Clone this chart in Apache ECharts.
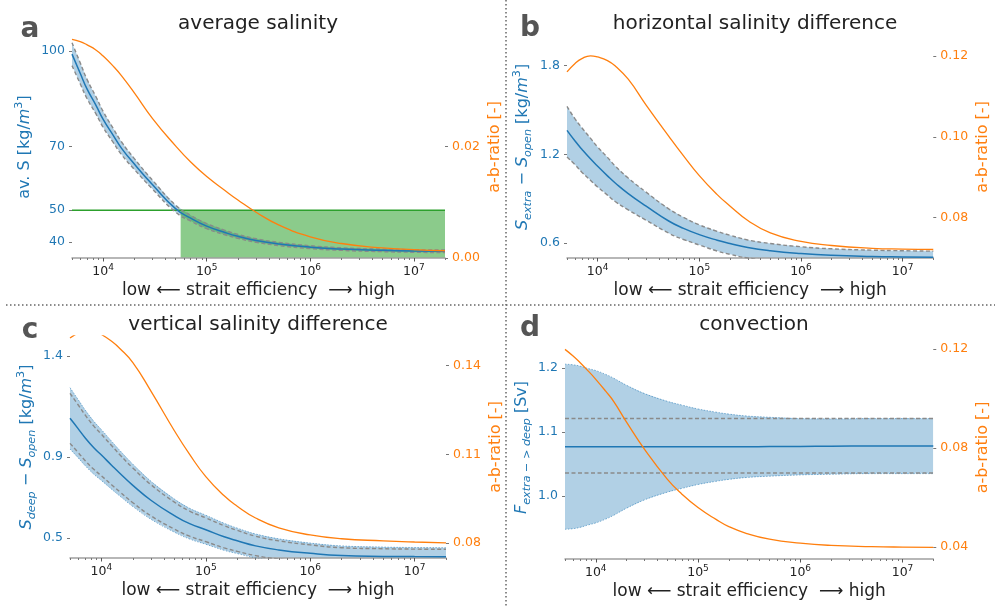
<!DOCTYPE html>
<html>
<head>
<meta charset="utf-8">
<title>strait efficiency</title>
<script src="https://cdn.jsdelivr.net/npm/echarts@6/dist/echarts.min.js"></script>
<style>
  html, body { margin: 0; padding: 0; background: #fff; }
  #chart { width: 995px; height: 607px; }
</style>
</head>
<body>
<div id="chart"></div>
<script>
// strait efficiency samples shared by all four panels
const efficiency = [5000, 6000, 7000, 8500, 10000, 12500, 15000, 20000, 30000, 50000, 70000,
  100000, 150000, 200000, 300000, 500000, 1000000, 2000000, 5000000, 10000000, 20000000];

// a: average salinity
const avgSMean = [99, 93, 88, 83, 78.5, 73.5, 69.5, 64.5, 58, 50.5, 47.5, 45, 43, 41.8, 40.5, 39.4, 38.4, 37.8, 37.4, 37.2, 37.1];
const avgSHigh = [102.6, 96.3, 91.0, 85.7, 81.0, 75.7, 71.5, 66.2, 59.4, 51.6, 48.4, 45.8, 43.7, 42.4, 41.05, 39.9, 38.85, 38.2, 37.8, 37.6, 37.5];
const avgSLow = [95.4, 89.7, 85.0, 80.3, 76.0, 71.3, 67.5, 62.8, 56.6, 49.4, 46.6, 44.2, 42.3, 41.2, 39.95, 38.9, 37.95, 37.4, 37.0, 36.8, 36.7];
const avgRatio = [0.0392, 0.0388, 0.0382, 0.0373, 0.0362, 0.0344, 0.0327, 0.0296, 0.0250, 0.0201, 0.0172, 0.0146, 0.0121, 0.0104, 0.0082, 0.0059, 0.0038, 0.0026, 0.0018, 0.0015, 0.0013];
const salinityLimit = 50;
const limitFrom = 56000;

// b: horizontal salinity difference
const horizMean = [1.362, 1.29, 1.235, 1.17, 1.12, 1.055, 1.005, 0.935, 0.85, 0.75, 0.70, 0.658, 0.620, 0.598, 0.571, 0.549, 0.530, 0.518, 0.510, 0.507, 0.505];
const horizHigh = [1.524, 1.44, 1.38, 1.31, 1.25, 1.18, 1.12, 1.04, 0.945, 0.832, 0.775, 0.724, 0.680, 0.654, 0.622, 0.598, 0.576, 0.562, 0.553, 0.549, 0.546];
const horizLow = [1.182, 1.13, 1.08, 1.025, 0.98, 0.925, 0.88, 0.825, 0.755, 0.668, 0.625, 0.588, 0.547, 0.525, 0.500, 0.483, 0.468, 0.460, 0.455, 0.453, 0.452];
const horizRatio = [0.1161, 0.1182, 0.1194, 0.1201, 0.1198, 0.1189, 0.1175, 0.1143, 0.1079, 0.1002, 0.0953, 0.0904, 0.0857, 0.0829, 0.0793, 0.0762, 0.0741, 0.0731, 0.0724, 0.0722, 0.0721];

// c: vertical salinity difference
const vertMean = [1.092, 1.04, 0.995, 0.945, 0.91, 0.86, 0.82, 0.76, 0.685, 0.61, 0.57, 0.54, 0.505, 0.485, 0.46, 0.44, 0.423, 0.412, 0.408, 0.407, 0.406];
const vertFillHigh = [1.244, 1.184, 1.133, 1.076, 1.036, 0.979, 0.933, 0.865, 0.779, 0.692, 0.646, 0.612, 0.572, 0.548, 0.519, 0.495, 0.474, 0.460, 0.454, 0.452, 0.451];
const vertFillLow = [0.940, 0.896, 0.857, 0.814, 0.784, 0.741, 0.707, 0.655, 0.591, 0.528, 0.494, 0.468, 0.438, 0.422, 0.401, 0.385, 0.372, 0.364, 0.362, 0.362, 0.361];
const vertDashHigh = [1.216, 1.158, 1.108, 1.052, 1.013, 0.957, 0.912, 0.846, 0.762, 0.677, 0.632, 0.599, 0.560, 0.537, 0.508, 0.485, 0.465, 0.451, 0.446, 0.444, 0.443];
const vertDashLow = [0.968, 0.922, 0.882, 0.838, 0.807, 0.763, 0.728, 0.674, 0.608, 0.543, 0.508, 0.481, 0.450, 0.433, 0.412, 0.395, 0.381, 0.373, 0.370, 0.370, 0.369];
const vertRatio = [0.1493, 0.1510, 0.1518, 0.1516, 0.1505, 0.1482, 0.1458, 0.1410, 0.1312, 0.1180, 0.1100, 0.1025, 0.0960, 0.0925, 0.0885, 0.0852, 0.0828, 0.0815, 0.0808, 0.0804, 0.0801];

// d: convection
const convMean = [1.077, 1.077, 1.077, 1.077, 1.077, 1.077, 1.077, 1.077, 1.077, 1.077, 1.077, 1.077, 1.077, 1.077, 1.077, 1.0772, 1.0775, 1.0778, 1.078, 1.078, 1.078];
const convFillHigh = [1.206, 1.205, 1.203, 1.199, 1.196, 1.190, 1.184, 1.173, 1.160, 1.148, 1.142, 1.136, 1.131, 1.128, 1.125, 1.123, 1.121, 1.1205, 1.121, 1.121, 1.121];
const convFillLow = [0.948, 0.949, 0.951, 0.955, 0.958, 0.964, 0.970, 0.981, 0.994, 1.006, 1.012, 1.018, 1.023, 1.026, 1.029, 1.031, 1.033, 1.034, 1.035, 1.035, 1.035];
const convDashX = [5000, 20000000];
const convDashHigh = [1.121, 1.121];
const convDashLow = [1.036, 1.036];
const convRatio = [0.1199, 0.1172, 0.1146, 0.1110, 0.1078, 0.1030, 0.0988, 0.0905, 0.0795, 0.0675, 0.0613, 0.0560, 0.0512, 0.0483, 0.0455, 0.0432, 0.0416, 0.0407, 0.0402, 0.0400, 0.0399];

// tick positions
const xMajorTicks = [1e4, 1e5, 1e6, 1e7];
const xMinorTicks = [5000, 6000, 7000, 8000, 9000,
  20000, 30000, 40000, 50000, 60000, 70000, 80000, 90000,
  200000, 300000, 400000, 500000, 600000, 700000, 800000, 900000,
  2e6, 3e6, 4e6, 5e6, 6e6, 7e6, 8e6, 9e6, 2e7];
const avgSTicks = [40, 50, 70, 100];
const avgRatioTicks = [0, 0.02, 0.04];
const horizTicks = [0.6, 1.2, 1.8];
const horizRatioTicks = [0.08, 0.10, 0.12];
const vertTicks = [0.5, 0.9, 1.4];
const vertRatioTicks = [0.08, 0.11, 0.14];
const convTicks = [1.0, 1.1, 1.2];
const convRatioTicks = [0.04, 0.08, 0.12];

const FONT = "'DejaVu Sans', sans-serif";
const BLUE = '#1f77b4';
const ORANGE = '#ff7f0e';
const BAND = 'rgba(31,119,180,0.35)';
const DASH_GRAY = '#8a8a8a';

const pairs = (xs, ys) => xs.map((x, i) => [x, ys[i]]);

function richFor(color, size) {
  return {
    it: { color, fontFamily: FONT, fontSize: size, fontStyle: 'italic', lineHeight: 22 },
    sub: { color, fontFamily: FONT, fontSize: size * 0.7, fontStyle: 'italic', verticalAlign: 'bottom', lineHeight: 9 },
    sup: { color, fontFamily: FONT, fontSize: size * 0.7, verticalAlign: 'top', lineHeight: 9 }
  };
}

function xAxes(gi) {
  return [{
    type: 'log', logBase: 10, gridIndex: gi, min: 5000, max: 2e7, position: 'bottom', z: 3,
    name: 'low ⟵ strait efficiency  ⟶ high', nameLocation: 'middle', nameGap: 22,
    nameTextStyle: { fontSize: 17, color: '#222', fontFamily: FONT },
    axisLine: { lineStyle: { color: '#a0a0a0', width: 1.5 } },
    axisTick: { customValues: xMajorTicks, length: 3.5, lineStyle: { color: '#555' } },
    axisLabel: {
      customValues: xMajorTicks, color: '#222', fontSize: 12.5, fontFamily: FONT, margin: 5, lineHeight: 18,
      formatter: v => '10{sup|' + Math.round(Math.log10(v)) + '}',
      rich: { sup: { color: '#222', fontSize: 9, fontFamily: FONT, verticalAlign: 'top', lineHeight: 9 } }
    },
    splitLine: { show: false }
  }, {
    type: 'log', logBase: 10, gridIndex: gi, min: 5000, max: 2e7, position: 'bottom', z: 3,
    axisLine: { show: false }, axisLabel: { show: false }, splitLine: { show: false },
    axisTick: { customValues: xMinorTicks, length: 2, lineStyle: { color: '#777' } }
  }];
}

function yAxis(gi, side, min, max, ticks, digits, color, name, nameGap) {
  return {
    type: 'value', gridIndex: gi, position: side, min, max,
    name, nameLocation: 'middle', nameGap, nameRotate: 90,
    nameTextStyle: { color, fontSize: 16, fontFamily: FONT, lineHeight: 22, rich: richFor(color, 16) },
    axisLine: { show: false },
    axisTick: { show: true, customValues: ticks, length: 3, lineStyle: { color: '#777' } },
    axisLabel: { customValues: ticks, formatter: v => v.toFixed(digits), color, fontSize: 12.5, fontFamily: FONT, margin: 7 },
    splitLine: { show: false }
  };
}

function line(xi, yi, data, color, width, type, extra) {
  return Object.assign({
    type: 'line', xAxisIndex: xi, yAxisIndex: yi, data, smooth: 0.5,
    symbol: 'none', silent: true, lineStyle: { color, width, type }
  }, extra || {});
}

// shaded band between lo and hi, drawn as one polygon through the axes' coord()
function bandFill(xi, yi, lo, hi) {
  return {
    type: 'custom', xAxisIndex: xi, yAxisIndex: yi, silent: true, clip: true,
    data: efficiency.map((x, i) => [x, lo[i], hi[i]]),
    encode: { x: 0, y: [1, 2] },
    renderItem: (params, api) => {
      if (params.dataIndex !== 0) return null;
      const top = efficiency.map((x, i) => api.coord([x, hi[i]]));
      const bottom = efficiency.map((x, i) => api.coord([x, lo[i]])).reverse();
      const cs = params.coordSys;
      return {
        type: 'polygon',
        shape: { points: top.concat(bottom) },
        style: { fill: BAND },
        clipPath: { type: 'rect', shape: { x: cs.x, y: cs.y, width: cs.width, height: cs.height } }
      };
    }
  };
}

function bandEdges(xi, yi, lo, hi, edge) {
  return [
    line(xi, yi, pairs(efficiency, lo), edge.color, edge.width, edge.type),
    line(xi, yi, pairs(efficiency, hi), edge.color, edge.width, edge.type)
  ];
}

const dashed = { color: DASH_GRAY, width: 1.4, type: [4, 2.5] };
const dotted = { color: 'rgba(31,119,180,0.55)', width: 1, type: [1.5, 1.5] };
const ratioName = 'a-b-ratio [-]';
const densUnit = ' [kg/{it|m}{sup|3}]';

const grids = [
  { left: 72, top: 36, width: 373, height: 222 },
  { left: 567, top: 36, width: 376, height: 222 },
  { left: 70, top: 336, width: 376, height: 222 },
  { left: 565, top: 336, width: 379, height: 223 }
];

const xAxisList = [].concat(xAxes(0), xAxes(1), xAxes(2), xAxes(3));
const yAxisList = [
  yAxis(0, 'left', 35, 104.7, avgSTicks, 0, BLUE, 'av. S' + densUnit, 36),
  yAxis(0, 'right', 0, 0.0398, avgRatioTicks, 2, ORANGE, ratioName, 36),
  yAxis(1, 'left', 0.5, 2.0, horizTicks, 1, BLUE, '{it|S}{sub|extra} − {it|S}{sub|open}' + densUnit, 33),
  yAxis(1, 'right', 0.07, 0.125, horizRatioTicks, 2, ORANGE, ratioName, 37),
  yAxis(2, 'left', 0.4, 1.5, vertTicks, 1, BLUE, '{it|S}{sub|deep} − {it|S}{sub|open}' + densUnit, 32),
  yAxis(2, 'right', 0.075, 0.15, vertRatioTicks, 2, ORANGE, ratioName, 36),
  yAxis(3, 'left', 0.9016, 1.25, convTicks, 1, BLUE, '{it|F}{sub|extra − > deep} [Sv]', 32),
  yAxis(3, 'right', 0.0352, 0.1253, convRatioTicks, 2, ORANGE, ratioName, 37)
];

const series = [
  // a
  line(0, 0, [[limitFrom, salinityLimit], [2e7, salinityLimit]], 'rgba(0,0,0,0)', 0, 'solid',
    { smooth: false, areaStyle: { color: 'rgba(44,160,44,0.55)', origin: 'start', opacity: 1 } }),
  line(0, 0, [[5000, salinityLimit], [2e7, salinityLimit]], '#2ca02c', 1.5, 'solid', { smooth: false }),
  bandFill(0, 0, avgSLow, avgSHigh),
  ...bandEdges(0, 0, avgSLow, avgSHigh, dashed),
  line(0, 0, pairs(efficiency, avgSMean), BLUE, 1.5, 'solid'),
  line(0, 1, pairs(efficiency, avgRatio), ORANGE, 1.3, 'solid'),
  // b
  bandFill(2, 2, horizLow, horizHigh),
  ...bandEdges(2, 2, horizLow, horizHigh, dashed),
  line(2, 2, pairs(efficiency, horizMean), BLUE, 1.5, 'solid'),
  line(2, 3, pairs(efficiency, horizRatio), ORANGE, 1.3, 'solid'),
  // c
  bandFill(4, 4, vertFillLow, vertFillHigh),
  ...bandEdges(4, 4, vertFillLow, vertFillHigh, dotted),
  line(4, 4, pairs(efficiency, vertDashHigh), dashed.color, dashed.width, dashed.type),
  line(4, 4, pairs(efficiency, vertDashLow), dashed.color, dashed.width, dashed.type),
  line(4, 4, pairs(efficiency, vertMean), BLUE, 1.5, 'solid'),
  line(4, 5, pairs(efficiency, vertRatio), ORANGE, 1.3, 'solid'),
  // d
  bandFill(6, 6, convFillLow, convFillHigh),
  ...bandEdges(6, 6, convFillLow, convFillHigh, dotted),
  line(6, 6, pairs(convDashX, convDashHigh), dashed.color, dashed.width, dashed.type, { smooth: false }),
  line(6, 6, pairs(convDashX, convDashLow), dashed.color, dashed.width, dashed.type, { smooth: false }),
  line(6, 6, pairs(efficiency, convMean), BLUE, 1.5, 'solid'),
  line(6, 7, pairs(efficiency, convRatio), ORANGE, 1.3, 'solid')
];

function label(text, x, y, size, weight, color) {
  return {
    type: 'text', x, y, silent: true,
    style: { text, fill: color, font: weight + ' ' + size + 'px ' + FONT,
      textAlign: 'center', align: 'center', textVerticalAlign: 'middle', verticalAlign: 'middle' }
  };
}

const divider = { stroke: '#666', lineWidth: 1.5, lineDash: [1.5, 2.5] };
const graphics = [
  { type: 'line', silent: true, shape: { x1: 506, y1: 0, x2: 506, y2: 607 }, style: divider },
  { type: 'line', silent: true, shape: { x1: 6, y1: 305, x2: 995, y2: 305 }, style: divider },
  label('average salinity', 258, 24, 20, 'normal', '#222'),
  label('horizontal salinity difference', 755, 24, 20, 'normal', '#222'),
  label('vertical salinity difference', 258, 325, 20, 'normal', '#222'),
  label('convection', 754, 325, 20, 'normal', '#222'),
  label('a', 30, 30, 28, 'bold', '#555'),
  label('b', 530, 29, 28, 'bold', '#555'),
  label('c', 30, 331, 28, 'bold', '#555'),
  label('d', 530, 329, 28, 'bold', '#555')
];

const chart = echarts.init(document.getElementById('chart'));
chart.setOption({
  animation: false,
  backgroundColor: '#fff',
  grid: grids,
  xAxis: xAxisList,
  yAxis: yAxisList,
  series,
  graphic: graphics
});
</script>
</body>
</html>
